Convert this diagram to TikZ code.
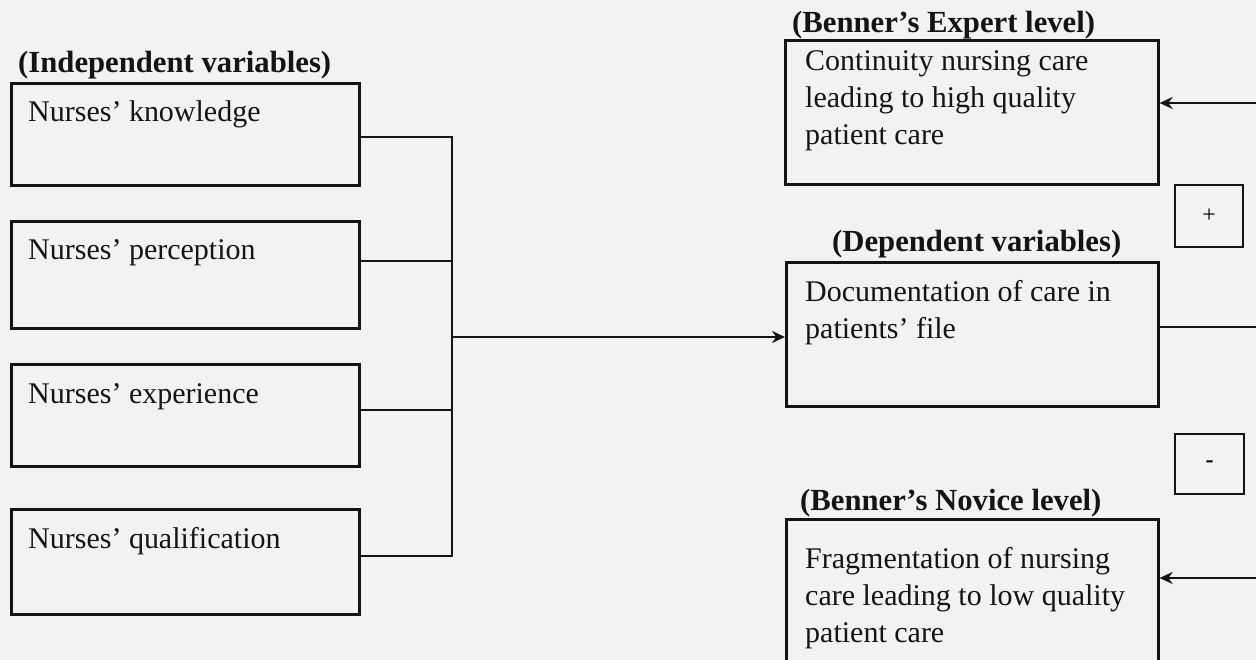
\documentclass[tikz,border=0pt]{standalone}
\usepackage{fontspec}
\setmainfont{Liberation Serif}
\usetikzlibrary{arrows.meta}
\definecolor{paper}{RGB}{242,242,242}
\definecolor{ink}{RGB}{20,20,20}
\begin{document}
\begin{tikzpicture}[x=1pt,y=-1pt,
  box/.style={draw=ink,line width=2.6pt,rectangle,inner sep=0pt,anchor=north west},
  sbox/.style={draw=ink,line width=2.4pt,rectangle,inner sep=0pt,anchor=north west,font=\fontsize{24}{24}\selectfont},
  txt/.style={inner sep=0pt,anchor=base west,font=\fontsize{30}{37}\selectfont,text=ink},
  mtxt/.style={inner sep=0pt,anchor=north west,align=left,font=\fontsize{30}{37}\selectfont,text=ink},
  lbl/.style={inner sep=0pt,anchor=base west,font=\fontsize{30.7}{31}\selectfont\bfseries,text=ink},
  conn/.style={draw=ink,line width=2.5pt},
  arr/.style={conn,-{Stealth[length=13pt,width=12pt]}}]
\fill[paper] (0,0) rectangle (1256,660);
\useasboundingbox (0,0) rectangle (1256,660);
\clip (0,0) rectangle (1256,660);

% labels
\node[lbl] (lind) at (18,73) {(Independent variables)};
\node[lbl] (lexp) at (792,33) {(Benner’s Expert level)};
\node[lbl] (ldep) at (832,252) {(Dependent variables)};
\node[lbl] (lnov) at (800,510) {(Benner’s Novice level)};

% independent boxes
\node[box,minimum width=348pt,minimum height=102pt] (know) at (10,82) {};
\node[box,minimum width=348pt,minimum height=107pt] (per) at (10,220) {};
\node[box,minimum width=348pt,minimum height=102pt] (expe) at (10,363) {};
\node[box,minimum width=348pt,minimum height=105pt] (qual) at (10,508) {};
\node[txt] (knowt) at (28,122) {Nurses’ knowledge};
\node[txt] (pert) at (28,260) {Nurses’ perception};
\node[txt] (expet) at (28,403) {Nurses’ experience};
\node[txt] (qualt) at (28,548) {Nurses’ qualification};

% dependent / outcome boxes
\node[box,minimum width=373pt,minimum height=144pt] (expert) at (784,39) {};
\node[box,minimum width=372pt,minimum height=144pt] (doc) at (785,261) {};
\node[box,minimum width=372pt,minimum height=190pt] (nov) at (785,518) {};
\node[mtxt] (expertt) at (805,50) {Continuity nursing care\\leading to high quality\\patient care};
\node[mtxt] (doct) at (805,280.5) {Documentation of care in\\patients’ file};
\node[mtxt] (novt) at (805,547.5) {Fragmentation of nursing\\care leading to low quality\\patient care};

% sign boxes
\node[sbox,minimum width=68pt,minimum height=62pt] (plus) at (1174,184) {+};
\node[sbox,minimum width=69pt,minimum height=60pt] (minus) at (1174,433) {\textbf{-}};

% junction coordinates
\coordinate (kj) at (452,137);
\coordinate (pj) at (452,261);
\coordinate (ej) at (452,410);
\coordinate (qj) at (452,556);
\coordinate (dj) at (452,337);
\coordinate (r1) at (1256,103);
\coordinate (r2) at (1256,327);
\coordinate (r3) at (1256,578);

\draw[conn] (know.east |- kj) -- (kj) -- (qj) -- (qual.east |- qj);
\draw[conn] (per.east |- pj) -- (pj);
\draw[conn] (expe.east |- ej) -- (ej);
\draw[arr] (dj) -- (doc.west |- dj);

\draw[arr] (r1) -- (expert.east |- r1);
\draw[conn] (doc.east |- r2) -- (r2);
\draw[arr] (r3) -- (nov.east |- r3);
\end{tikzpicture}
\end{document}
